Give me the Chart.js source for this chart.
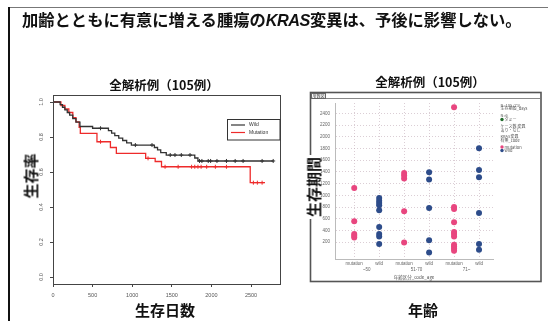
<!DOCTYPE html>
<html><head><meta charset="utf-8">
<script src="https://cdn.jsdelivr.net/npm/chart.js@4"></script>
<style>
html,body{margin:0;padding:0;background:#fff;}
#page{position:relative;width:548px;height:321px;overflow:hidden;background:#fff;font-family:"Noto Sans CJK JP","Noto Sans",sans-serif;}
canvas{position:absolute;left:0;top:0;}
.t{position:absolute;white-space:nowrap;font-weight:bold;color:#111;transform:translate(-50%,-50%);line-height:1;}
.v{transform:translate(-50%,-50%) rotate(-90deg);}
</style></head>
<body><div id="page">
<div style="position:absolute;left:8px;top:7px;width:540px;height:0;border-top:1.5px solid #777;"></div>
<div style="position:absolute;left:8px;top:7px;width:0;height:314px;border-left:2px solid #111;"></div>
<canvas id="km" width="548" height="321"></canvas>
<canvas id="sc" width="548" height="321"></canvas>
<div class="t" style="left:22px;top:20px;transform:translate(0,-50%);font-size:16.3px;">加齢とともに有意に増える腫瘍の<i style="font-family:'Liberation Sans',sans-serif;letter-spacing:-0.5px;">KRAS</i>変異は、予後に影響しない。</div>
<div class="t" style="left:164px;top:85px;font-size:12.5px;">全解析例（105例）</div>
<div class="t" style="left:430px;top:82px;font-size:12.5px;">全解析例（105例）</div>
<div class="t v" style="left:30px;top:176px;font-size:15px;">生存率</div>
<div class="t" style="left:165px;top:309px;font-size:15px;">生存日数</div>
<div class="t v" style="left:313px;top:187px;font-size:15px;background:#fff;padding:0 2px;">生存期間</div>
<div class="t" style="left:423px;top:309px;font-size:15px;">年齢</div>
</div>
<script>
// ---- Kaplan-Meier (left) ----
const wildTime = [0, 90, 120, 150, 180, 210, 250, 290, 340, 500, 700, 740, 780, 830, 880, 930, 990, 1280, 1320, 1360, 1430, 1790, 1830, 2782];
const wildSurv = [1, 0.985, 0.97, 0.955, 0.94, 0.925, 0.905, 0.885, 0.86, 0.85, 0.836, 0.822, 0.808, 0.794, 0.78, 0.767, 0.754, 0.74, 0.726, 0.711, 0.697, 0.68, 0.663, 0.663];
const mutTime = [0, 100, 150, 200, 250, 290, 330, 345, 555, 725, 800, 1170, 1290, 1370, 2490, 2677];
const mutSurv = [1, 0.98, 0.96, 0.94, 0.91, 0.887, 0.855, 0.821, 0.773, 0.74, 0.707, 0.678, 0.66, 0.63, 0.539, 0.539];
const wildCensorTime = [600, 1040, 1250, 1480, 1540, 1620, 1730, 1850, 1880, 1960, 1990, 2070, 2190, 2300, 2400, 2640, 2780];
const wildCensorSurv = [0.85, 0.754, 0.754, 0.697, 0.697, 0.697, 0.697, 0.663, 0.663, 0.663, 0.663, 0.663, 0.663, 0.663, 0.663, 0.663, 0.663];
const mutCensorTime = [600, 1200, 1415, 1580, 1750, 1790, 1830, 1870, 1940, 2050, 2190, 2530, 2580, 2640];
const mutCensorSurv = [0.773, 0.678, 0.63, 0.63, 0.63, 0.63, 0.63, 0.63, 0.63, 0.63, 0.63, 0.539, 0.539, 0.539];
const kmXTicks = [0, 500, 1000, 1500, 2000, 2500];
const kmYTicks = [0, 0.2, 0.4, 0.6, 0.8, 1.0];
const kmLegend = ['Wild', 'Mutation'];

// ---- Survival by age group (right) ----
const krasLabels = ['mutation', 'wild', 'mutation', 'wild', 'mutation', 'wild'];
const ageGroups = ['~50', '51-70', '71~'];
const mutAge1 = [1126, 554, 340, 310, 280];
const wildAge1 = [954, 909, 869, 829, 743, 457, 337, 297, 166];
const mutAge2 = [1383, 1337, 1286, 726, 194];
const wildAge2 = [1394, 1269, 783, 229, 20];
const mutAge3 = [2509, 800, 766, 537, 371, 337, 297, 154, 126, 91, 51];
const wildAge3 = [1806, 1434, 1309, 697, 166, 69];
const survTicks = [200, 400, 600, 800, 1000, 1200, 1400, 1600, 1800, 2000, 2200, 2400];
const scLegend = ['N=105 (73)', '生存期間_days', 'N=6', 'ダミー', 'ケース数:変異', 'あり・なし', 'KRAS変異', '有無_code', 'mutation', 'wild'];
const scAxisNote = '年齢区分_code_age';

const pts = (xs, ys) => xs.map((x, i) => ({x: x, y: ys[i]}));
const col = (idx, ys) => ys.map(y => ({x: idx, y: y}));

const BLACK = '#333', RED = '#ee2b2b', PINK = '#e8467f', BLUE = '#2d4c8a';

const kmDecor = {
  id: 'kmDecor',
  afterDraw(chart) {
    const ctx = chart.ctx, a = chart.chartArea, ys = chart.scales.y;
    ctx.save();
    ctx.strokeStyle = '#444'; ctx.lineWidth = 1;
    ctx.strokeRect(a.left + 0.5, a.top + 0.5, a.right - a.left, a.bottom - a.top);
    ctx.fillStyle = '#555'; ctx.font = '5.5px "Liberation Sans"';
    ctx.textAlign = 'center'; ctx.textBaseline = 'middle';
    ys.ticks.forEach(t => {
      const y = ys.getPixelForValue(t.value);
      ctx.save(); ctx.translate(41.5, y); ctx.rotate(-Math.PI / 2);
      ctx.fillText(t.value.toFixed(1), 0, 0); ctx.restore();
    });
    // legend box
    const lx = 227, ly = 119, lw = 53, lh = 21;
    ctx.fillStyle = '#fff'; ctx.fillRect(lx, ly, lw, lh);
    ctx.strokeStyle = '#333'; ctx.strokeRect(lx + 0.5, ly + 0.5, lw - 0.5, lh - 0.5);
    const cols = [BLACK, RED];
    kmLegend.forEach((name, i) => {
      const y = ly + 6 + i * 7.5;
      ctx.strokeStyle = cols[i]; ctx.lineWidth = 1.2;
      ctx.beginPath(); ctx.moveTo(lx + 4, y); ctx.lineTo(lx + 18, y); ctx.stroke();
      ctx.fillStyle = '#333'; ctx.font = '5px "Liberation Sans"'; ctx.textAlign = 'left';
      ctx.fillText(name, lx + 22, y);
    });
    ctx.restore();
  }
};

new Chart(document.getElementById('km'), {
  type: 'line',
  data: { datasets: [
    { label: kmLegend[0], data: pts(wildTime, wildSurv), stepped: true, borderColor: BLACK, borderWidth: 1.3, pointRadius: 0, fill: false },
    { label: kmLegend[1], data: pts(mutTime, mutSurv), stepped: true, borderColor: RED, borderWidth: 1.3, pointRadius: 0, fill: false },
    { type: 'scatter', label: 'Wild censored', data: pts(wildCensorTime, wildCensorSurv), pointStyle: 'cross', pointRadius: 2, borderColor: BLACK, borderWidth: 1, showLine: false },
    { type: 'scatter', label: 'Mutation censored', data: pts(mutCensorTime, mutCensorSurv), pointStyle: 'cross', pointRadius: 2, borderColor: RED, borderWidth: 1, showLine: false }
  ]},
  options: {
    responsive: false, animation: false, events: [],
    layout: { padding: { left: 0, top: 95, right: 268, bottom: 0 } },
    plugins: { legend: { display: false }, tooltip: { enabled: false } },
    scales: {
      x: { type: 'linear', min: 0, max: 2866,
        afterBuildTicks: s => { s.ticks = kmXTicks.map(v => ({value: v})); },
        afterFit: s => { s.height = 37; },
        ticks: { callback: v => String(v), font: { size: 5.5, family: 'Liberation Sans' }, color: '#555', padding: 5, maxRotation: 0, autoSkip: false },
        grid: { drawOnChartArea: false, tickLength: 3, color: '#444' },
        border: { color: '#444' } },
      y: { type: 'linear', min: -0.04, max: 1.04,
        afterBuildTicks: s => { s.ticks = kmYTicks.map(v => ({value: v})); },
        afterFit: s => { s.width = 53; },
        ticks: { display: false },
        grid: { drawOnChartArea: false, tickLength: 3, color: '#444' },
        border: { color: '#444' } }
    }
  },
  plugins: [kmDecor]
});

const scDecor = {
  id: 'scDecor',
  afterDraw(chart) {
    const ctx = chart.ctx, xs = chart.scales.x;
    ctx.save();
    ctx.strokeStyle = '#555'; ctx.lineWidth = 1.6;
    ctx.strokeRect(310.5, 92.5, 230.5, 189);
    ctx.lineWidth = 1; ctx.strokeStyle = '#888';
    ctx.beginPath(); ctx.moveTo(311, 98.5); ctx.lineTo(540, 98.5); ctx.stroke();
    ctx.strokeStyle = '#666'; ctx.strokeRect(311.5, 93.5, 14, 5);
    ctx.fillStyle = '#444'; ctx.font = '4px "Noto Sans CJK JP"'; ctx.textBaseline = 'middle'; ctx.textAlign = 'left';
    ctx.fillText('度数図', 312.5, 96);
    // legend text
    const rows = [105, 108.5, 115, 119.5, 126.5, 130, 136.5, 140, 147, 150.5];
    const dots = {3: '#1f6a2a', 8: PINK, 9: BLUE};
    scLegend.forEach((s, i) => {
      let x = 500.5;
      if (dots[i]) {
        ctx.fillStyle = dots[i];
        ctx.beginPath(); ctx.arc(502, rows[i], 1.7, 0, Math.PI * 2); ctx.fill();
        x = 504.5;
      }
      ctx.fillStyle = '#555'; ctx.font = '4px "Noto Sans CJK JP"';
      ctx.fillText(s, x, rows[i]);
    });
    // age group labels under each pair of categories
    ctx.textAlign = 'center'; ctx.fillStyle = '#666'; ctx.font = '4.5px "Liberation Sans"';
    ageGroups.forEach((g, i) => {
      ctx.fillText(g, xs.getPixelForValue(i * 2 + 0.5), 270);
    });
    ctx.font = '4.5px "Noto Sans CJK JP"'; ctx.fillStyle = '#555';
    const nx = (xs.left + xs.right) / 2;
    ctx.fillText(scAxisNote, nx, 277);
    ctx.restore();
  }
};

const mutPts = [].concat(col(0, mutAge1), col(2, mutAge2), col(4, mutAge3));
const wildPts = [].concat(col(1, wildAge1), col(3, wildAge2), col(5, wildAge3));
const GRID = 'rgba(190,165,178,0.55)';

new Chart(document.getElementById('sc'), {
  type: 'scatter',
  data: { datasets: [
    { label: 'mutation', data: mutPts, backgroundColor: PINK, borderColor: PINK, pointRadius: 3, borderWidth: 0 },
    { label: 'wild', data: wildPts, backgroundColor: BLUE, borderColor: BLUE, pointRadius: 3, borderWidth: 0 }
  ]},
  options: {
    responsive: false, animation: false, events: [],
    layout: { padding: { left: 0, top: 103, right: 55, bottom: 0 } },
    plugins: { legend: { display: false }, tooltip: { enabled: false } },
    scales: {
      x: { type: 'linear', min: -0.77, max: 5.56,
        afterBuildTicks: s => { s.ticks = krasLabels.map((_, i) => ({value: i})); },
        afterFit: s => { s.height = 62; },
        ticks: { callback: v => krasLabels[v], font: { size: 4.5, family: 'Liberation Sans' }, color: '#666', padding: 2, maxRotation: 0, autoSkip: false },
        grid: { color: GRID, drawTicks: false },
        border: { color: '#bbb', dash: [1, 2] } },
      y: { type: 'linear', min: -90, max: 2580,
        afterBuildTicks: s => { s.ticks = survTicks.map(v => ({value: v})); },
        afterFit: s => { s.width = 335; },
        ticks: { callback: v => String(v), font: { size: 4.5, family: 'Liberation Sans' }, color: '#666', padding: 5 },
        grid: { color: GRID, drawTicks: false },
        border: { color: '#bbb', dash: [1, 2] } }
    }
  },
  plugins: [scDecor]
});
</script>
</body></html>
